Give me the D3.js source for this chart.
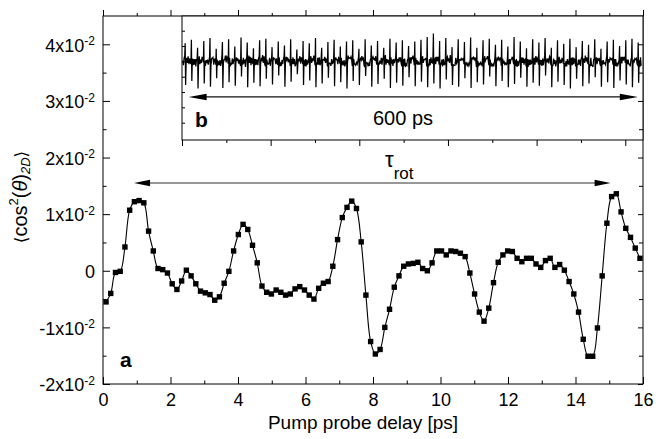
<!DOCTYPE html>
<html><head><meta charset="utf-8">
<script src="https://cdn.jsdelivr.net/npm/d3@7"></script>
<style>
body{margin:0;background:#fff}
svg{display:block}
text{font-family:"Liberation Sans",Arial,Helvetica,sans-serif;fill:#000}
</style>
</head><body>
<svg id="chart" width="670" height="439"></svg>
<script>
// ---------- data (main panel a) ----------
const delay = [0.09,0.23,0.37,0.51,0.65,0.79,0.93,1.07,1.21,1.35,
1.49,1.63,1.77,1.91,2.05,2.19,2.33,2.47,2.61,2.75,
2.89,3.03,3.17,3.31,3.45,3.59,3.73,3.87,4.01,4.15,
4.29,4.43,4.57,4.71,4.85,4.99,5.13,5.27,5.41,5.55,
5.69,5.83,5.97,6.11,6.25,6.39,6.53,6.67,6.81,6.95,
7.09,7.23,7.37,7.51,7.65,7.79,7.93,8.07,8.21,8.35,
8.49,8.63,8.77,8.91,9.05,9.19,9.33,9.47,9.61,9.75,
9.89,10.03,10.17,10.31,10.45,10.59,10.73,10.87,11.01,11.15,
11.29,11.43,11.57,11.71,11.85,11.99,12.13,12.27,12.41,12.55,
12.69,12.83,12.97,13.11,13.25,13.39,13.53,13.67,13.81,13.95,
14.09,14.23,14.37,14.51,14.65,14.79,14.93,15.07,15.21,15.35,
15.49,15.63,15.77,15.91];
// <cos^2 theta_2D> in units of 1e-2
const cos2 = [-0.55,-0.40,-0.03,-0.01,0.42,1.07,1.22,1.24,1.20,0.70,
0.35,0.04,0.02,-0.04,-0.23,-0.33,-0.18,0.01,-0.09,-0.23,
-0.36,-0.39,-0.42,-0.52,-0.46,-0.22,-0.01,0.35,0.64,0.82,
0.73,0.45,0.14,-0.27,-0.38,-0.41,-0.34,-0.38,-0.43,-0.41,
-0.32,-0.28,-0.34,-0.43,-0.50,-0.31,-0.22,-0.19,0.08,0.55,
0.94,1.12,1.23,1.10,0.51,-0.43,-1.25,-1.47,-1.39,-1.00,
-0.68,-0.29,-0.09,0.08,0.12,0.13,0.15,0.04,0.00,0.14,
0.35,0.35,0.28,0.35,0.34,0.31,0.25,-0.04,-0.41,-0.73,
-0.89,-0.66,-0.21,0.15,0.28,0.35,0.34,0.22,0.16,0.22,
0.22,0.12,0.06,0.18,0.22,0.06,0.11,0.01,-0.19,-0.41,
-0.73,-1.21,-1.51,-1.51,-1.01,-0.09,0.84,1.31,1.36,1.04,
0.75,0.59,0.40,0.22];

const xTicks = [0,2,4,6,8,10,12,14,16];
const xMinor = [1,3,5,7,9,11,13,15];
const yTicks = [-2,-1,0,1,2,3,4];
const yMinor = [-1.5,-0.5,0.5,1.5,2.5,3.5];

// ---------- data (inset b, long scan) ----------
const insetPeriod = 8.4;   // ps between revival features
const insetPeak = [4.02,4.08,3.94,4.06,4.11,3.92,4.04,4.09,3.96,4.12,
4.03,3.93,4.07,4.10,3.95,4.05,3.98,4.09,3.91,4.06,
4.02,4.11,3.94,4.04,4.08,3.96,4.05,4.07,3.92,4.09,
3.98,4.06,3.94,4.10,4.03,4.07,3.97,4.05,4.08,4.13,
4.19,4.06,4.11,3.95,4.09,4.04,4.12,3.94,4.07,4.10,
3.99,4.08,3.96,4.13,4.05,3.93,4.09,4.03,4.11,3.94,
4.07,4.01,4.10,3.95,4.06,3.99,4.09,3.92,4.05,4.08,
3.97,4.07,4.10,4.03];
const insetDip = [3.28,3.35,3.22,3.31,3.25,3.40,3.23,3.33,3.27,3.43,
3.24,3.32,3.26,3.39,3.29,3.45,3.25,3.34,3.47,3.28,
3.36,3.24,3.31,3.41,3.26,3.33,3.22,3.35,3.28,3.44,
3.25,3.30,3.39,3.23,3.32,3.27,3.42,3.26,3.34,3.24,
3.31,3.22,3.38,3.28,3.25,3.40,3.23,3.33,3.29,3.43,
3.26,3.35,3.24,3.30,3.41,3.25,3.32,3.27,3.45,3.24,
3.34,3.28,3.22,3.39,3.26,3.31,3.42,3.25,3.33,3.23,
3.36,3.29,3.24,3.32];
const insetBase = [3.71,3.65,3.74,3.67,3.73,3.64,3.72,3.68,3.75,3.66,
3.71,3.63,3.73,3.67,3.76,3.65,3.72,3.68,3.74,3.66,
3.73,3.70,3.77,3.67,3.74,3.65,3.72,3.75,3.68,3.73,
3.66,3.71,3.76,3.67,3.74,3.72,3.65,3.75,3.68,3.73,
3.77,3.70,3.74,3.67,3.76,3.72,3.66,3.73,3.68,3.75,
3.65,3.72,3.67,3.74,3.71,3.64,3.73,3.68,3.75,3.66,
3.72,3.67,3.74,3.65,3.73,3.70,3.63,3.72,3.67,3.74,
3.66,3.71,3.65,3.73];
const insetBase2 = [3.63,3.75,3.61,3.77,3.64,3.74,3.62,3.78,3.65,3.73,
3.60,3.76,3.63,3.79,3.62,3.75,3.65,3.73,3.61,3.77,
3.64,3.80,3.63,3.74,3.66,3.76,3.61,3.78,3.65,3.75,
3.62,3.79,3.64,3.73,3.67,3.77,3.63,3.80,3.65,3.75,
3.68,3.78,3.64,3.81,3.66,3.74,3.62,3.77,3.65,3.79,
3.61,3.75,3.64,3.78,3.62,3.73,3.65,3.76,3.63,3.79,
3.61,3.75,3.66,3.74,3.62,3.77,3.60,3.76,3.64,3.73,
3.63,3.78,3.61,3.75];
const insetXMajor = [0,120,240,360,480,600];
const insetXMinor = [60,180,300,420,540];
const insetYTicks = [1,2,3,4,5,6,7];

// annotations (data coordinates)
const tauArrow = {x0:0.92, x1:15.04, y:1.55};
const spanArrow = {x0:9, x1:617, y:3.07};

// ---------- layout ----------
const L = 103, R = 643, T = 16, B = 384;
const IL = 182, IB = 140;

const svg = d3.select("#chart");
const x = d3.scaleLinear().domain([0,16]).range([L,R]);
const y = d3.scaleLinear().domain([-2,4.5]).range([B,T]);
const ix = d3.scaleLinear().domain([0,624]).range([IL,R]);
const iy = d3.scaleLinear().domain([-0.13,7.96]).range([IB,T]);

const noDomain = g => g.select(".domain").remove();
const tickStyle = g => g.selectAll(".tick line").attr("stroke","#000").attr("stroke-width",1);

// main frame
svg.append("rect").attr("x",L).attr("y",T).attr("width",R-L).attr("height",B-T)
  .attr("fill","none").attr("stroke","#000").attr("stroke-width",1);

// bottom axis
const gb = svg.append("g").attr("transform",`translate(0,${B})`)
  .call(d3.axisBottom(x).tickValues(xTicks).tickSize(-7).tickPadding(9).tickFormat(d3.format("d")))
  .call(noDomain).call(tickStyle);
gb.selectAll("text").attr("font-size",18).attr("font-family",null);
svg.append("g").attr("transform",`translate(0,${B})`)
  .call(d3.axisBottom(x).tickValues(xMinor).tickSize(-3.5).tickFormat(""))
  .call(noDomain).call(tickStyle);

// top axis (ticks outward)
svg.append("g").attr("transform",`translate(0,${T})`)
  .call(d3.axisTop(x).tickValues(xTicks).tickSize(6).tickFormat(""))
  .call(noDomain).call(tickStyle);
svg.append("g").attr("transform",`translate(0,${T})`)
  .call(d3.axisTop(x).tickValues(xMinor).tickSize(3).tickFormat(""))
  .call(noDomain).call(tickStyle);

// left axis
const gl = svg.append("g").attr("transform",`translate(${L},0)`)
  .call(d3.axisLeft(y).tickValues(yTicks).tickSize(-7).tickPadding(8))
  .call(noDomain).call(tickStyle);
gl.selectAll(".tick text").attr("font-size",18).attr("font-family",null).attr("dy","0.38em")
  .each(function(d){
    const t = d3.select(this); t.text(null);
    if (d === 0) { t.text("0"); return; }
    t.append("tspan").text(d + "x10");
    t.append("tspan").attr("dy","-0.55em").attr("font-size",12).text("-2");
  });
svg.append("g").attr("transform",`translate(${L},0)`)
  .call(d3.axisLeft(y).tickValues(yMinor).tickSize(-3.5).tickFormat(""))
  .call(noDomain).call(tickStyle);

// ---------- inset ----------
svg.append("rect").attr("x",IL).attr("y",T).attr("width",R-IL).attr("height",IB-T)
  .attr("fill","#fff").attr("stroke","#000").attr("stroke-width",1);

// each revival: noisy baseline samples, a sharp up-spike and a sharp down-spike
const n = insetPeak.length, h = Math.floor(n/2);
const insetPts = [];
insetPeak.forEach((p,k)=>{
  const t0 = 1 + k*insetPeriod;
  insetPts.push([t0,       insetBase[k]]);
  insetPts.push([t0+0.9,   insetBase2[k]]);
  insetPts.push([t0+1.8,   insetBase[(k+h)%n]]);
  insetPts.push([t0+2.7,   insetBase2[(k+h)%n]]);
  insetPts.push([t0+3.3,   p]);
  insetPts.push([t0+3.9,   insetDip[k]]);
  insetPts.push([t0+4.6,   insetBase[(k+7)%n]]);
  insetPts.push([t0+5.5,   insetBase2[(k+11)%n]]);
  insetPts.push([t0+6.4,   insetBase[(k+23)%n]]);
  insetPts.push([t0+7.3,   insetBase2[(k+31)%n]]);
});
svg.append("defs").append("clipPath").attr("id","ic").append("rect")
  .attr("x",IL).attr("y",T).attr("width",R-IL).attr("height",IB-T);
svg.append("path").datum(insetPts)
  .attr("clip-path","url(#ic)")
  .attr("fill","none").attr("stroke","#000").attr("stroke-width",1.25)
  .attr("d", d3.line().x(d=>ix(d[0])).y(d=>y(d[1])));

svg.append("g").attr("transform",`translate(0,${IB})`)
  .call(d3.axisBottom(ix).tickValues(insetXMajor).tickSize(6).tickFormat(""))
  .call(noDomain).call(tickStyle);
svg.append("g").attr("transform",`translate(0,${IB})`)
  .call(d3.axisBottom(ix).tickValues(insetXMinor).tickSize(3).tickFormat(""))
  .call(noDomain).call(tickStyle);
svg.append("g").attr("transform",`translate(${IL},0)`)
  .call(d3.axisLeft(iy).tickValues(insetYTicks).tickSize(-3).tickFormat(""))
  .call(noDomain).call(tickStyle);

// right axis (drawn after inset so it shows through)
svg.append("g").attr("transform",`translate(${R},0)`)
  .call(d3.axisRight(y).tickValues(yTicks).tickSize(-5).tickFormat(""))
  .call(noDomain).call(tickStyle);
svg.append("g").attr("transform",`translate(${R},0)`)
  .call(d3.axisRight(y).tickValues(yMinor).tickSize(-4).tickFormat(""))
  .call(noDomain).call(tickStyle);

// ---------- main curve ----------
const pts = delay.map((t,i)=>[t,cos2[i]]);
svg.append("path").datum(pts)
  .attr("fill","none").attr("stroke","#000").attr("stroke-width",1.1)
  .attr("d", d3.line().curve(d3.curveCatmullRom.alpha(0.5)).x(d=>x(d[0])).y(d=>y(d[1])));
svg.append("g").selectAll("rect").data(pts).join("rect")
  .attr("x",d=>x(d[0])-2.7).attr("y",d=>y(d[1])-2.7)
  .attr("width",5.4).attr("height",5.4).attr("fill","#000");

// ---------- arrows ----------
function dblArrow(x0,x1,yy,color,len,hw){
  svg.append("line").attr("x1",x0+len-2).attr("x2",x1-len+2).attr("y1",yy).attr("y2",yy)
    .attr("stroke",color).attr("stroke-width",1.2);
  svg.append("path").attr("d",`M${x0},${yy}L${x0+len},${yy-hw}L${x0+len},${yy+hw}Z`).attr("fill","#000");
  svg.append("path").attr("d",`M${x1},${yy}L${x1-len},${yy-hw}L${x1-len},${yy+hw}Z`).attr("fill","#000");
}
dblArrow(x(tauArrow.x0), x(tauArrow.x1), y(tauArrow.y), "#333", 16, 3.2);
dblArrow(ix(spanArrow.x0), ix(spanArrow.x1), y(spanArrow.y), "#111", 18, 3.3);

// ---------- labels ----------
const tau = svg.append("text").attr("x",385).attr("y",167);
tau.append("tspan").attr("font-size",22).text("τ");
tau.append("tspan").attr("font-size",17).attr("dy",12).text("rot");

svg.append("text").attr("x",403).attr("y",125).attr("text-anchor","middle")
  .attr("font-size",20).text("600 ps");
svg.append("text").attr("x",195).attr("y",127).attr("font-size",21).attr("font-weight","bold").text("b");
svg.append("text").attr("x",120).attr("y",367).attr("font-size",21).attr("font-weight","bold").text("a");

svg.append("text").attr("x",363).attr("y",429).attr("text-anchor","middle")
  .attr("font-size",19).text("Pump probe delay [ps]");

const yl = svg.append("text").attr("transform","translate(27,197) rotate(-90)")
  .attr("text-anchor","middle").attr("font-size",20);
yl.append("tspan").attr("font-family","DejaVu Sans").attr("font-size",17).text("⟨");
yl.append("tspan").text("cos");
yl.append("tspan").attr("font-size",13).attr("dy",-9).text("2");
yl.append("tspan").attr("dy",9).text("(");
yl.append("tspan").attr("font-style","italic").text("θ");
yl.append("tspan").text(")");
yl.append("tspan").attr("font-size",13).attr("font-style","italic").attr("dy",3).text("2D");
yl.append("tspan").attr("font-family","DejaVu Sans").attr("font-size",17).attr("dy",-3).text("⟩");
</script>
</body></html>
